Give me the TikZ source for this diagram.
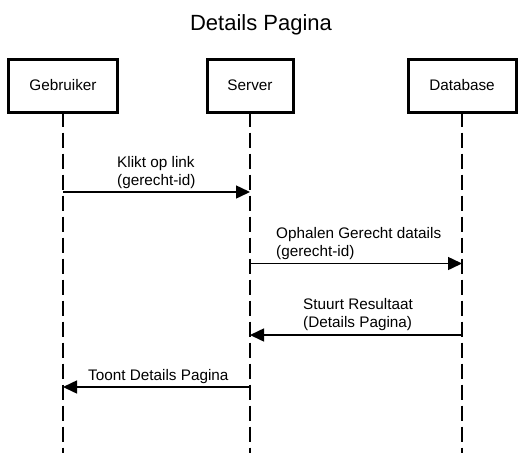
\documentclass[tikz,border=0pt]{standalone}
\usepackage{fontspec}
\setmainfont{Liberation Sans}
\usetikzlibrary{arrows.meta}
\begin{document}
\begin{tikzpicture}[x=1pt,y=-1pt,
  actor/.style={draw=black, line width=3pt, minimum width=#1, minimum height=53pt, inner sep=0pt, font=\fontsize{15.3}{18}\selectfont},
  lifeline/.style={line width=1.5pt, dash pattern=on 15pt off 6pt, dash phase=2pt},
  msg/.style={line width=1.5pt, -{Triangle[length=14pt,width=13pt]}},
  lbl/.style={anchor=south west, inner sep=0pt, align=left, font=\fontsize{15.3}{18}\selectfont},
  ttl/.style={anchor=base, inner sep=0pt, font=\fontsize{22}{26}\selectfont}]
\useasboundingbox (0,0) rectangle (524,453);
\node[ttl] (title) at (261,30) {Details Pagina};
% actors
\node[actor=109pt] (geb) at (63,85.5) {Gebruiker};
\node[actor=86pt] (srv) at (250,85.5) {Server};
\node[actor=108pt] (db) at (462,85.5) {Database};
% lifeline ends
\coordinate (gebEnd) at (63,453);
\coordinate (srvEnd) at (250,453);
\coordinate (dbEnd) at (462,453);
\draw[lifeline] (geb.south) -- (gebEnd);
\draw[lifeline] (srv.south) -- (srvEnd);
\draw[lifeline] (db.south) -- (dbEnd);
% message anchor points
\coordinate (g1) at (63,192);
\coordinate (s1) at (250,192);
\coordinate (s2) at (250,263.5);
\coordinate (d2) at (462,263.5);
\coordinate (d3) at (462,335);
\coordinate (s3) at (250,335);
\coordinate (s4) at (250,387);
\coordinate (g4) at (63,387);
\draw[msg] (g1) -- (s1);
\draw[msg] (s2) -- (d2);
\draw[msg] (d3) -- (s3);
\draw[msg] (s4) -- (g4);
% labels
\node[lbl] (l1) at (117,188.5) {Klikt op link\\(gerecht-id)};
\node[lbl] (l2) at (276,259.5) {Ophalen Gerecht datails\\(gerecht-id)};
\node[lbl] (l3) at (303,331) {Stuurt Resultaat\\(Details Pagina)};
\node[lbl] (l4) at (88,384) {Toont Details Pagina};
\end{tikzpicture}
\end{document}
